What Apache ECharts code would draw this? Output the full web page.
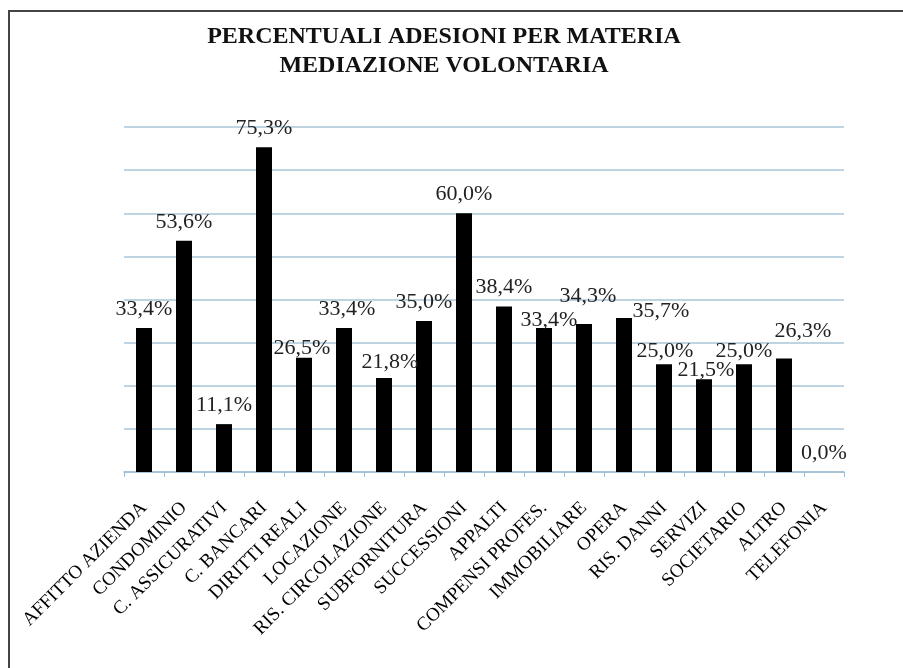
<!DOCTYPE html>
<html>
<head>
<meta charset="utf-8">
<script src="https://cdn.jsdelivr.net/npm/echarts@6/dist/echarts.min.js"></script>
<style>
  html, body { margin: 0; padding: 0; background: #fff; }
  #chart { width: 903px; height: 668px; }
</style>
</head>
<body>
<div id="chart"></div>
<script>
var materie = [
    'AFFITTO AZIENDA', 'CONDOMINIO', 'C. ASSICURATIVI', 'C. BANCARI',
    'DIRITTI REALI', 'LOCAZIONE', 'RIS. CIRCOLAZIONE', 'SUBFORNITURA',
    'SUCCESSIONI', 'APPALTI', 'COMPENSI PROFES.', 'IMMOBILIARE',
    'OPERA', 'RIS. DANNI', 'SERVIZI', 'SOCIETARIO', 'ALTRO', 'TELEFONIA'
];
var adesioni = [33.4, 53.6, 11.1, 75.3, 26.5, 33.4, 21.8, 35.0, 60.0,
                38.4, 33.4, 34.3, 35.7, 25.0, 21.5, 25.0, 26.3, 0.0];
var titoloRighe = ['PERCENTUALI ADESIONI PER MATERIA', 'MEDIAZIONE VOLONTARIA'];

// small nudges so labels sit where the original (Excel) put them
var labelNudge = {
    4: [-2, 9], 5: [3, 0], 6: [6, 3], 10: [5, 11], 11: [4, -9],
    12: [37, 12], 13: [1, 6], 14: [2, 10], 15: [0, 6], 16: [19, -8]
};

function getSerieData() {
    return adesioni.map(function (v, i) {
        var item = { value: v };
        if (labelNudge[i]) {
            item.label = { offset: labelNudge[i] };
        }
        return item;
    });
}

var myChart = echarts.init(document.getElementById('chart'));

var option = {
    backgroundColor: '#fff',
    animation: false,
    title: {
        text: titoloRighe.join('\n'),
        left: 439,
        textAlign: 'center',
        top: 17,
        textStyle: {
            fontFamily: 'Liberation Serif',
            fontWeight: 'bold',
            fontSize: 24,
            lineHeight: 29,
            color: '#111'
        }
    },
    graphic: [{
        type: 'rect',
        shape: { x: 9, y: 11, width: 910, height: 680 },
        style: { fill: 'none', stroke: '#444', lineWidth: 2 },
        silent: true
    }],
    grid: { left: 124, right: 59, top: 127, bottom: 196 },
    xAxis: {
        type: 'category',
        data: materie,
        axisLine: { lineStyle: { color: '#9fbcd0', width: 1.5 } },
        axisTick: { show: true, length: 5, lineStyle: { color: '#9fbcd0' } },
        axisLabel: {
            interval: 0,
            rotate: 45,
            margin: 33,
            fontFamily: 'Liberation Serif',
            fontSize: 19,
            color: '#000'
        }
    },
    yAxis: {
        type: 'value',
        min: 0,
        max: 80,
        interval: 10,
        axisLabel: { show: false },
        axisLine: { show: false },
        axisTick: { show: false },
        splitLine: { lineStyle: { color: '#a9c6d9', width: 1.5 } }
    },
    series: [{
        type: 'bar',
        data: getSerieData(),
        barWidth: 16,
        itemStyle: { color: '#000' },
        label: {
            show: true,
            position: 'top',
            distance: 8,
            lineHeight: 22,
            fontFamily: 'Liberation Serif',
            fontSize: 22,
            color: '#222',
            formatter: function (p) {
                return p.value.toFixed(1).replace('.', ',') + '%';
            }
        }
    }]
};

myChart.setOption(option);
</script>
</body>
</html>
